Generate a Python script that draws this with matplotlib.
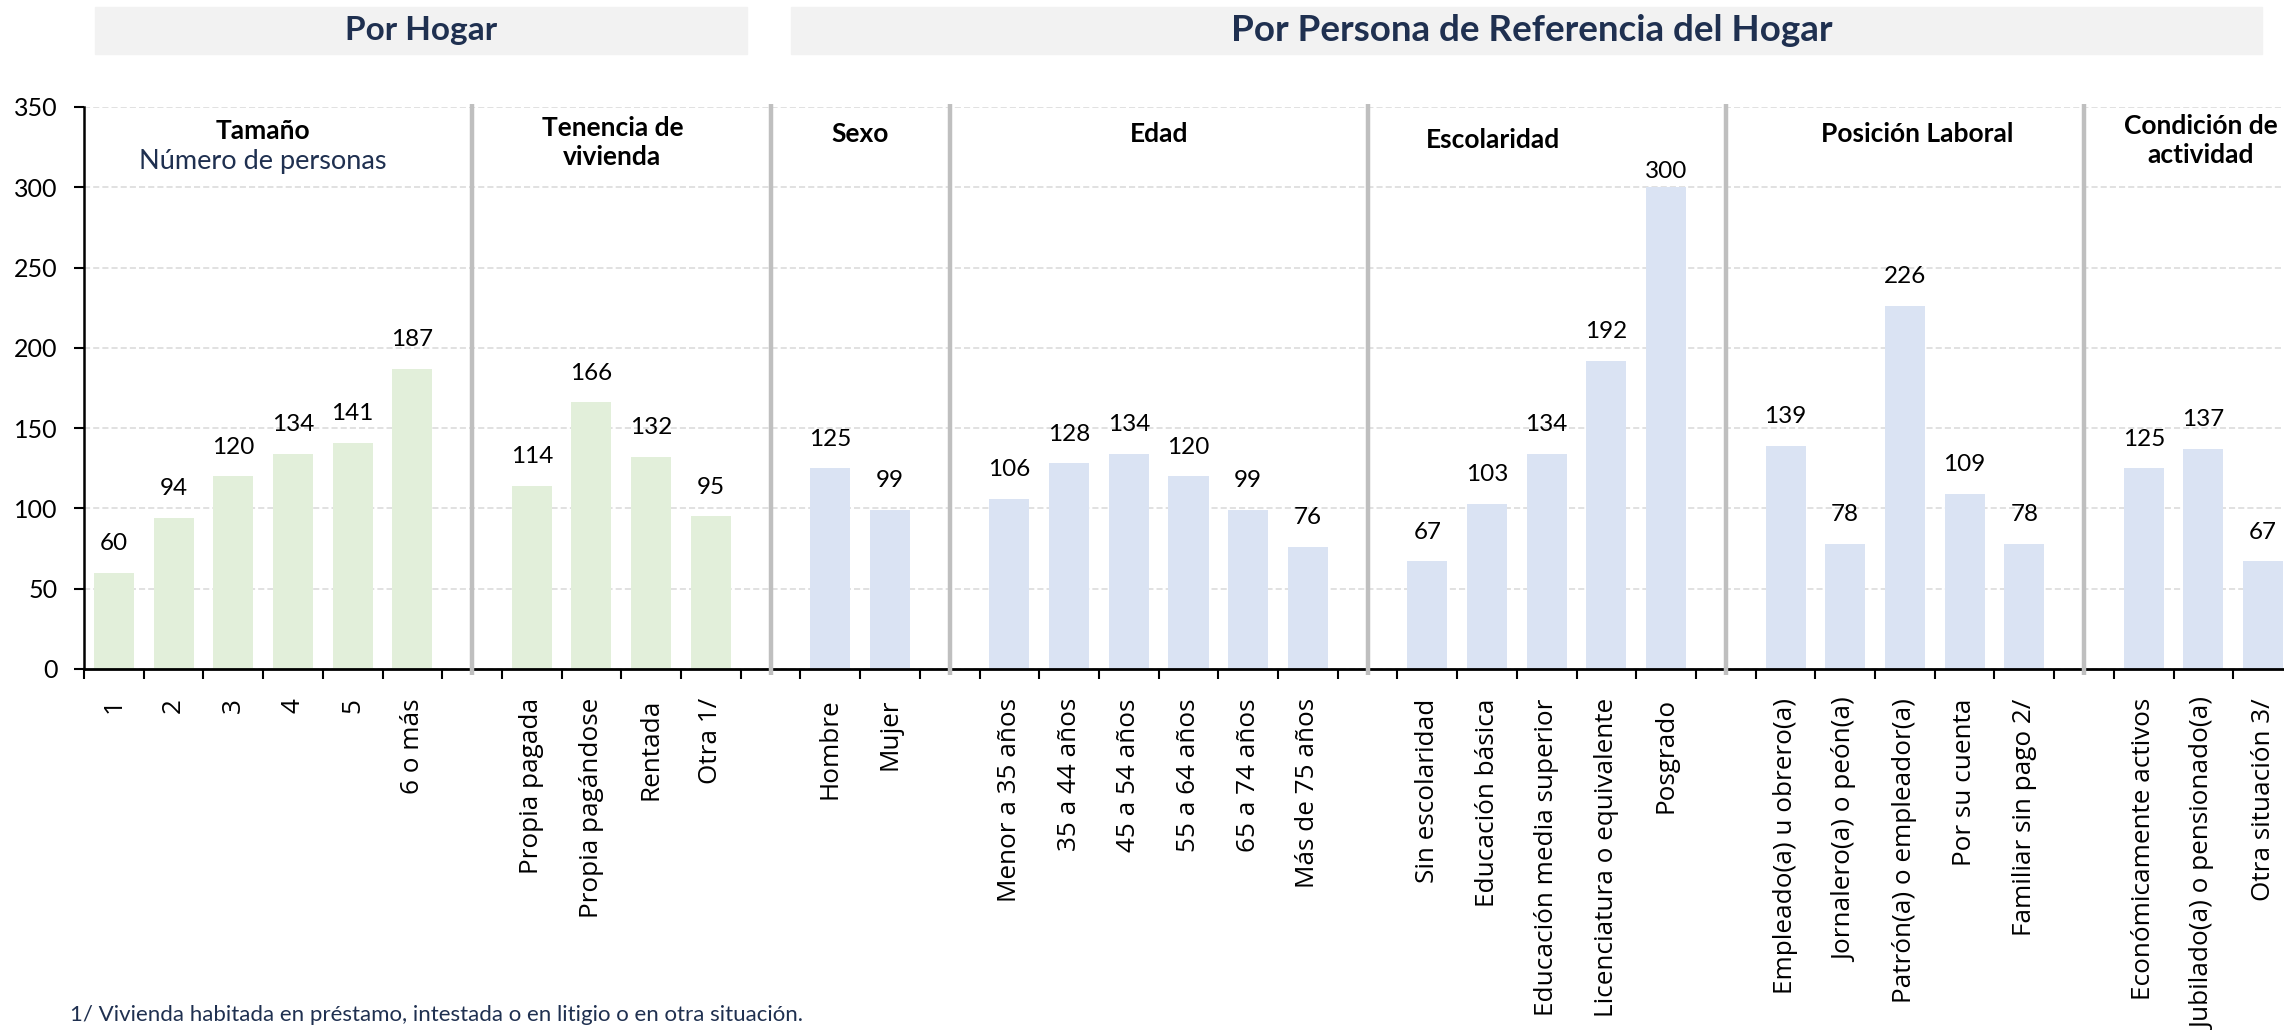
# %% paquetes
import numpy as np
import matplotlib.pyplot as plt
from matplotlib.patches import Rectangle

plt.rcParams['font.family'] = ['Lato', 'DejaVu Sans']

# %% datos
tamano_lbl = ["1", "2", "3", "4", "5", "6 o más"]
tamano_val = [60, 94, 120, 134, 141, 187]

tenencia_lbl = ["Propia pagada", "Propia pagándose", "Rentada", "Otra 1/"]
tenencia_val = [114, 166, 132, 95]

sexo_lbl = ["Hombre", "Mujer"]
sexo_val = [125, 99]

edad_lbl = ["Menor a 35 años", "35 a 44 años", "45 a 54 años", "55 a 64 años",
            "65 a 74 años", "Más de 75 años"]
edad_val = [106, 128, 134, 120, 99, 76]

escol_lbl = ["Sin escolaridad", "Educación básica", "Educación media superior",
             "Licenciatura o equivalente", "Posgrado"]
escol_val = [67, 103, 134, 192, 300]

posicion_lbl = ["Empleado(a) u obrero(a)", "Jornalero(a) o peón(a)",
                "Patrón(a) o empleador(a)", "Por su cuenta", "Familiar sin pago 2/"]
posicion_val = [139, 78, 226, 109, 78]

condicion_lbl = ["Económicamente activos", "Jubilado(a) o pensionado(a)",
                 "Otra situación 3/"]
condicion_val = [125, 137, 67]

titulos = ["Tamaño", "Tenencia de\nvivienda", "Sexo", "Edad", "Escolaridad",
           "Posición Laboral", "Condición de\nactividad"]

verde = "#E2EFDA"
azul = "#DAE3F3"
navy = "#1F3050"

grupos = [
    (tamano_lbl, tamano_val, verde),
    (tenencia_lbl, tenencia_val, verde),
    (sexo_lbl, sexo_val, azul),
    (edad_lbl, edad_val, azul),
    (escol_lbl, escol_val, azul),
    (posicion_lbl, posicion_val, azul),
    (condicion_lbl, condicion_val, azul),
]

# %% figura
fig = plt.figure(figsize=(22.84, 10.30), dpi=100)
ax = fig.add_axes([84 / 2284, 361 / 1030, 2209 / 2284, 562 / 1030])

pos = 0
centros = []
etiquetas = []
separadores = []
centros_grupo = []
for i, (lbl, val, col) in enumerate(grupos):
    x = np.arange(pos, pos + len(lbl))
    ax.bar(x, val, width=0.67, color=col, zorder=2)
    for xi, v in zip(x, val):
        off = 4 if v > 280 else 13.5
        ax.annotate(str(v), (xi, v), xytext=(0, off), textcoords="offset points",
                    ha="center", va="bottom", fontsize=17.5, color="black")
    centros += list(x)
    etiquetas += lbl
    centros_grupo.append(x.mean())
    if i < len(grupos) - 1:
        separadores.append(pos + len(lbl))
    pos += len(lbl) + 1

ax.vlines(separadores, -4, 352, color="#BFBFBF", lw=3.2, clip_on=False, zorder=3)

# titulos de cada grupo
ajuste_x = [0, -0.15, 0, 0, -0.9, 0.2, -0.05]
alto_y = [335, 328, 333, 333, 329.5, 333, 329]
for t, cx, dx, ty in zip(titulos, centros_grupo, ajuste_x, alto_y):
    ax.text(cx + dx, ty, t, ha="center", va="center", fontsize=19,
            fontweight="bold", color="black", linespacing=1.25, zorder=4)
ax.text(centros_grupo[0], 316, "Número de personas", ha="center", va="center",
        fontsize=19.5, color=navy, zorder=4)

# ejes
ax.set_xlim(-0.5, 36.5)
ax.set_ylim(0, 350)
ax.set_yticks(np.arange(0, 351, 50))
ax.tick_params(axis="y", labelsize=18, length=7, width=1.5, pad=12)
ax.set_xticks(np.arange(-0.5, 37, 1), minor=True)
ax.tick_params(axis="x", which="major", length=0, pad=21)
ax.tick_params(axis="x", which="minor", length=7, width=1.5)
ax.set_xticks(centros, etiquetas, rotation=90, fontfamily="Open Sans", fontsize=18.8)

ax.grid(axis="y", color="#D9D9D9", ls=(0, (4, 2)), lw=1.1)
ax.set_axisbelow(True)
for s in ["top", "right"]:
    ax.spines[s].set_visible(False)
ax.spines["left"].set_linewidth(1.8)
ax.spines["bottom"].set_linewidth(2)

# encabezados
fig.patches.append(Rectangle((95 / 2284, 976 / 1030), 652 / 2284, 47 / 1030,
                             transform=fig.transFigure, color="#F2F2F2", zorder=0))
fig.patches.append(Rectangle((791 / 2284, 976 / 1030), 1471 / 2284, 47 / 1030,
                             transform=fig.transFigure, color="#F2F2F2", zorder=0))
fig.text(421 / 2284, 999.5 / 1030, "Por Hogar", ha="center", va="center",
         fontsize=24, fontweight="bold", color=navy)
fig.text(1532 / 2284, 999.5 / 1030, "Por Persona de Referencia del Hogar", ha="center",
         va="center", fontsize=26.5, fontweight="bold", color=navy)

# nota
fig.text(70 / 2284, 15 / 1030, "1/ Vivienda habitada en préstamo, intestada o en litigio o en otra situación.",
         ha="left", va="center", fontsize=16, color=navy)

fig.savefig("out.png", dpi=100)
